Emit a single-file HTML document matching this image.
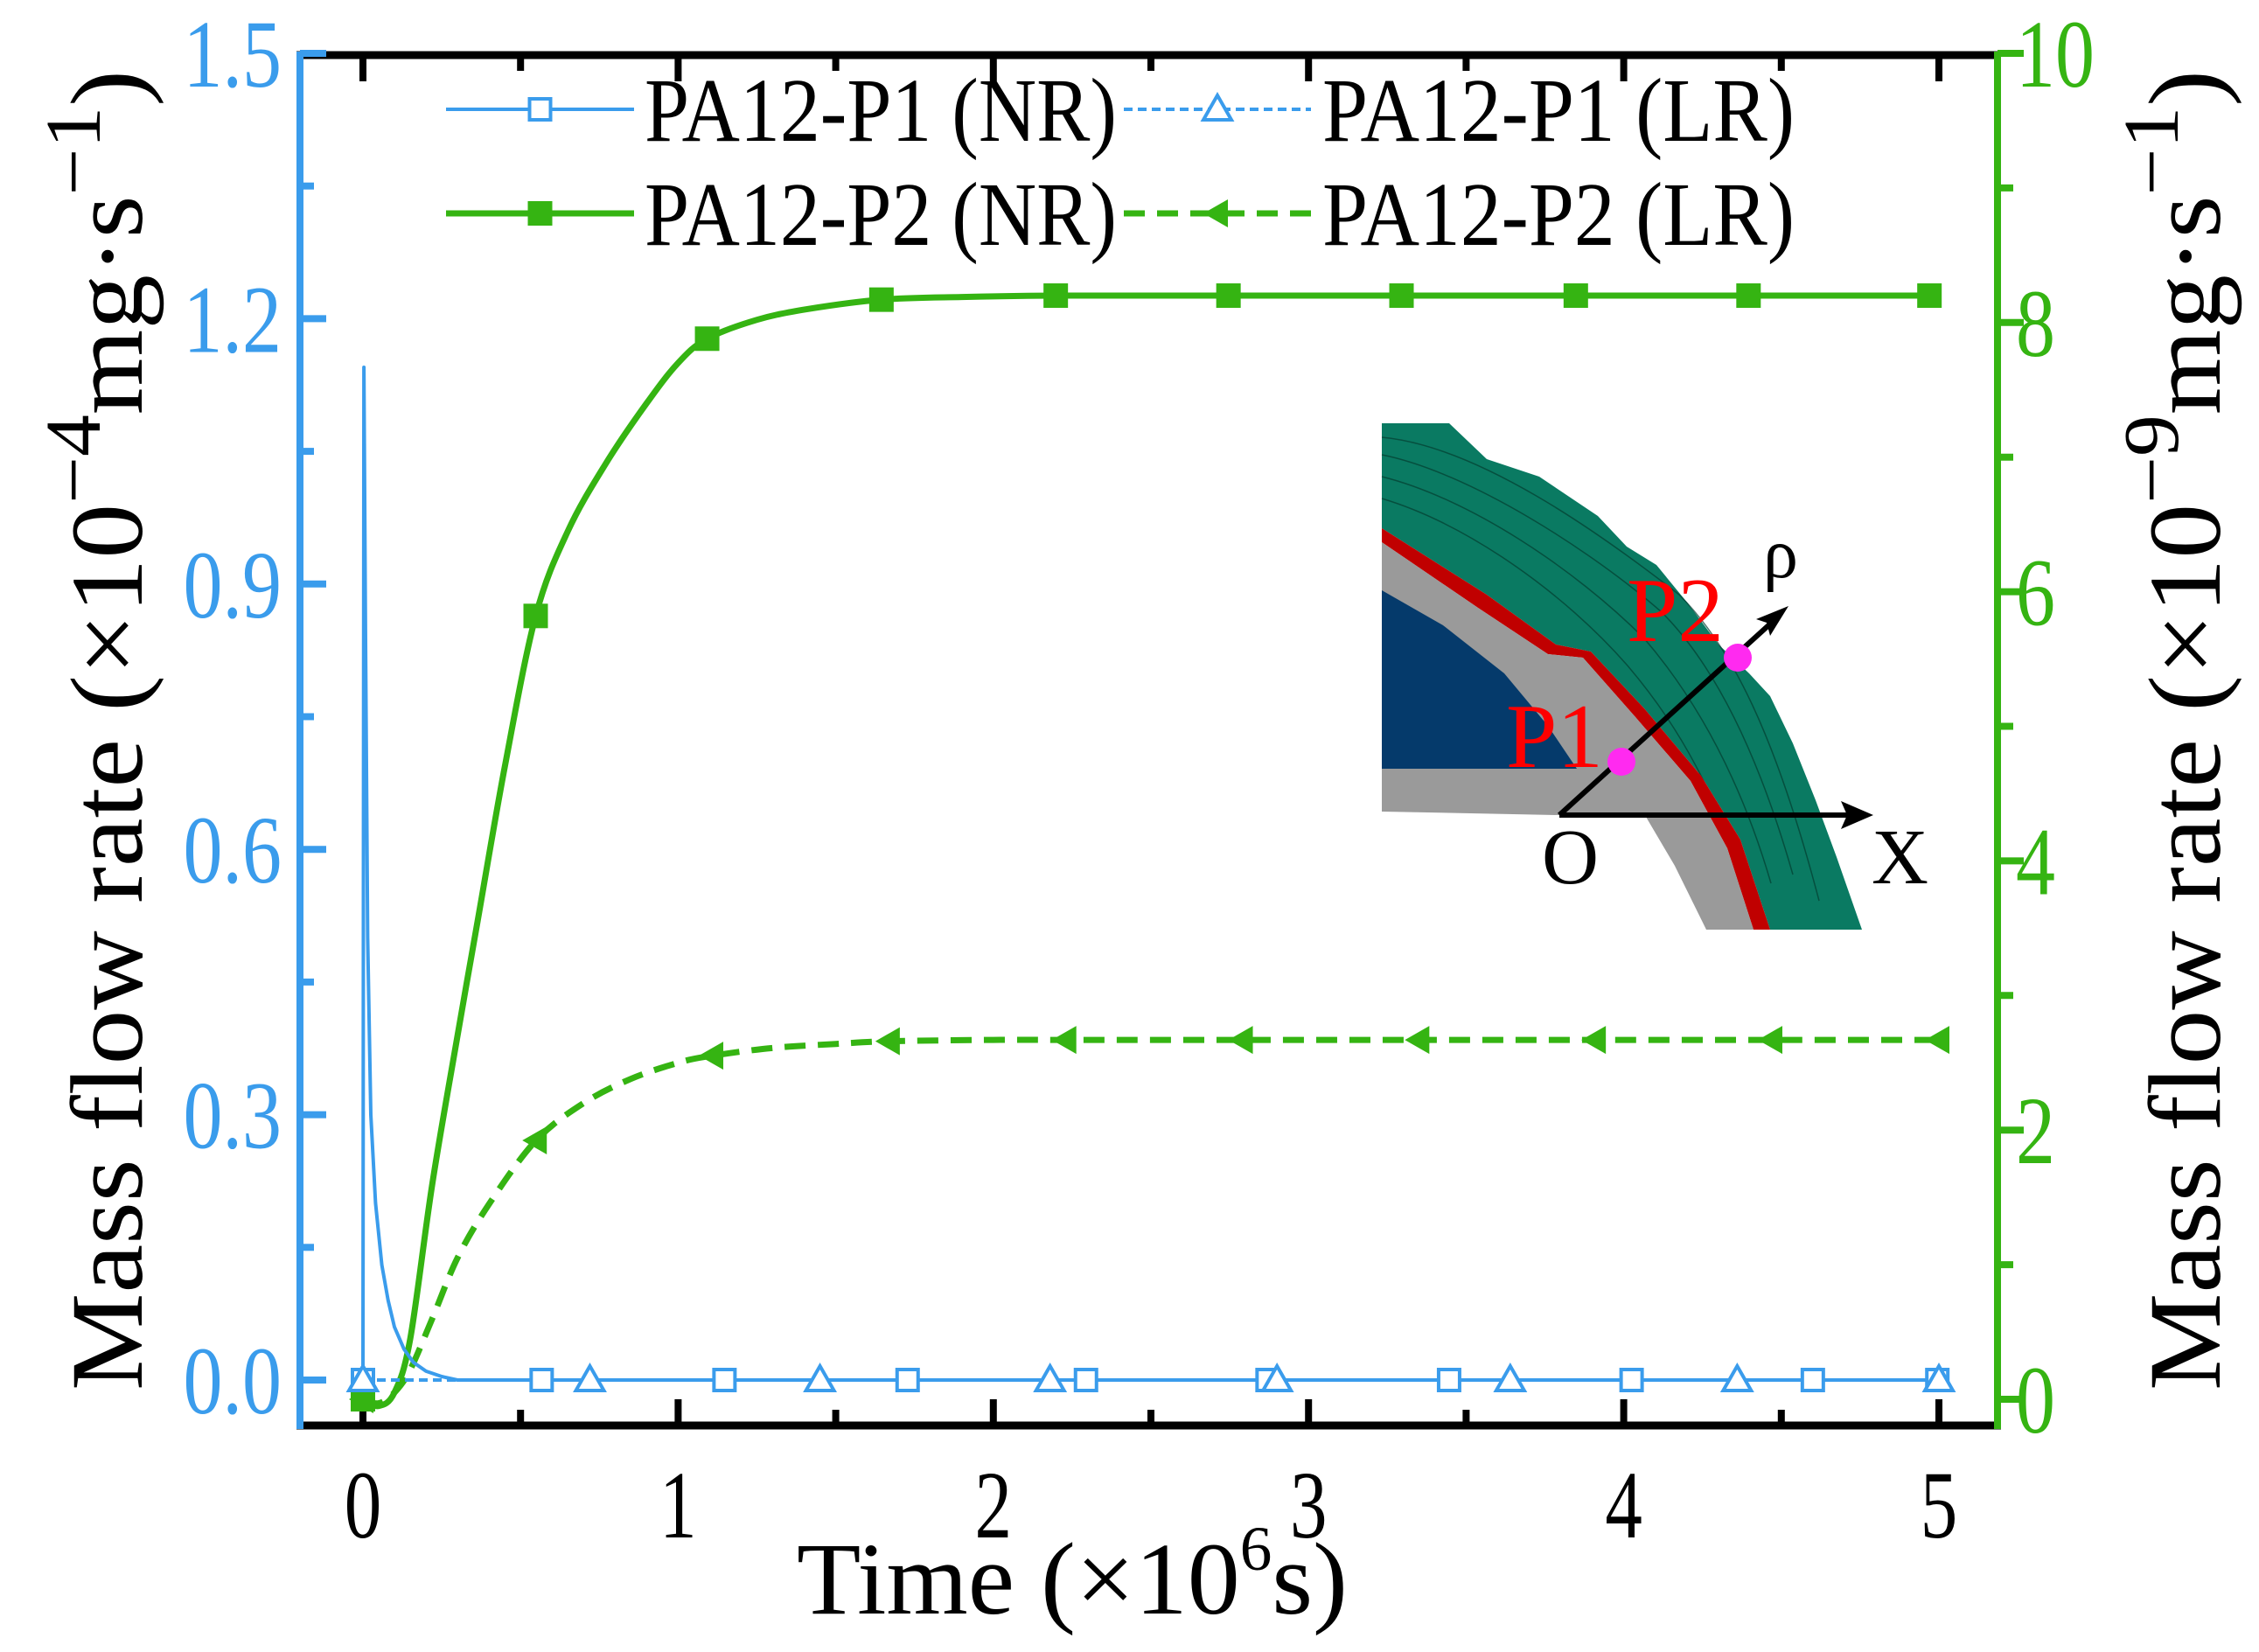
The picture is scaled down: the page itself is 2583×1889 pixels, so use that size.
<!DOCTYPE html>
<html><head><meta charset="utf-8"><style>
html,body{margin:0;padding:0;background:#fff;}
svg{display:block;font-family:"Liberation Serif",serif;}
</style></head><body>
<svg id="chart" width="2583" height="1889" viewBox="0 0 2583 1889" xmlns="http://www.w3.org/2000/svg">
<g id="inset">
  <path fill="#0a7a62" d="M1580,484 L1657,484 L1700,525 L1760,545 L1827,590 L1860,625 L1894,646 L1930,690 L1965,737 L2000,770 L2024,796 L2050,850 L2076,915 L2100,980 L2129,1063 L2024,1063 L1990,960 L1945,887 L1880,810 L1819,745 L1779,737 L1700,680 L1580,604 Z"/>
  <g stroke="#043d30" stroke-width="1.5" fill="none" opacity="0.7">
    <path d="M1580,520 C1680,540 1820,630 1900,700 C1960,760 2010,860 2050,1000"/>
    <path d="M1580,545 C1680,570 1800,650 1880,730 C1940,800 1990,890 2025,1010"/>
    <path d="M1580,570 C1680,600 1790,680 1860,760 C1920,830 1965,910 2000,1030"/>
    <path d="M1580,500 C1690,510 1830,610 1920,680 C1980,740 2030,840 2080,1030"/>
  </g>
  <path fill="#c00000" d="M1580,604 L1700,680 L1779,737 L1819,745 L1880,810 L1945,887 L1990,960 L2024,1063 L2005,1063 L1975,970 L1933,893 L1870,820 L1810,752 L1770,748 L1690,695 L1580,620 Z"/>
  <path fill="#9a9a9a" d="M1580,620 L1690,695 L1770,748 L1810,752 L1870,820 L1933,893 L1975,970 L2005,1063 L1951,1063 L1915,990 L1882,934 L1580,928 Z"/>
  <path fill="#053a6b" d="M1580,675 L1650,715 L1720,770 L1770,830 L1803,879 L1580,879 Z"/>
  <line x1="1783" y1="932" x2="2125" y2="932" stroke="#000" stroke-width="6"/>
  <path d="M2142,932 L2105,916 L2112,932 L2105,948 Z" fill="#000"/>
  <line x1="1783" y1="932" x2="2030" y2="708" stroke="#000" stroke-width="6"/>
  <path d="M2045,693 L2008,708 L2020,712 L2024,727 Z" fill="#000"/>
  <circle cx="1854" cy="871" r="16" fill="#ff2af0"/>
  <circle cx="1987" cy="752" r="16" fill="#ff2af0"/>
  <text x="1722" y="877" font-size="105" fill="#ff0000">P1</text>
  <text x="1860" y="733" font-size="105" fill="#ff0000">P2</text>
  <text x="1763" y="1010" font-size="90" fill="#000">O</text>
  <text x="2140" y="1010" font-size="90" fill="#000">X</text>
  <text x="2016" y="660" font-size="80" fill="#000">ρ</text>
</g>
<g id="plot"></g>
</svg>
<script>
const timeNR2 = [0,0.05,0.1,0.15,0.22,0.3,0.36,0.45,0.548,0.65,0.77,0.9,1.0,1.092,1.25,1.41,1.645,1.9,2.198,2.746,3.295,3.848,4.396,4.97];
const valNR2  = [0,-0.05,0.05,0.45,1.6,2.7,3.5,4.7,5.82,6.45,6.95,7.4,7.7,7.88,8.02,8.1,8.17,8.19,8.2,8.2,8.2,8.2,8.2,8.2];
const markNR2 = [0,0.548,1.092,1.645,2.198,2.746,3.295,3.848,4.396,4.97];
const timeLR2 = [0,0.05,0.1,0.15,0.22,0.3,0.4,0.548,0.7,0.85,1.0,1.1,1.3,1.5,1.67,2.0,2.23,2.79,3.35,3.91,4.47,5.0];
const valLR2  = [0,-0.03,0.05,0.22,0.6,1.05,1.45,1.92,2.2,2.38,2.5,2.55,2.61,2.64,2.66,2.67,2.67,2.67,2.67,2.67,2.67,2.67];
const markLR2 = [0,0.55,1.11,1.67,2.23,2.79,3.35,3.91,4.47,5.0];
const timeNR1 = [0,0.003,0.008,0.015,0.025,0.04,0.06,0.08,0.1,0.13,0.16,0.2,0.25,0.3,1,2,3,4,5];
const valNR1  = [0,1.145,0.85,0.5,0.3,0.2,0.13,0.09,0.06,0.035,0.02,0.01,0.004,0,0,0,0,0,0];
const markNR1 = [0,0.567,1.147,1.728,2.294,2.87,3.446,4.025,4.6,4.995];
const timeLR1 = [0,5];
const valLR1  = [0,0];
const markLR1 = [0,0.72,1.45,2.18,2.9,3.64,4.36,5.0];
const xTicks = [0,1,2,3,4,5];
const yLeftTicks = ["0.0","0.3","0.6","0.9","1.2","1.5"];
const yRightTicks = ["0","2","4","6","8","10"];

const NS="http://www.w3.org/2000/svg";
const L=343, R=2284, T=63, B=1630;
const X = t => 415 + t*360.4;
const YL = v => 1578 - v*(1578-61)/1.5;
const YR = v => 1600 - v*(1600-61)/10;
const BLUE="#3a9cec", GREEN="#35b412";
const g=document.getElementById('plot');
function el(tag, attrs, parent){const e=document.createElementNS(NS,tag);for(const k in attrs)e.setAttribute(k,attrs[k]);(parent||g).appendChild(e);return e;}

let s;
s=el('line',{x1:L-4,y1:T,x2:R+4,y2:T,stroke:'#000','stroke-width':9});


s=el('line',{x1:L-4,y1:B,x2:R+4,y2:B,stroke:'#000','stroke-width':9});


s=el('line',{x1:L,y1:T-4,x2:L,y2:B+4,stroke:BLUE,'stroke-width':8});


s=el('line',{x1:R,y1:T-4,x2:R,y2:B+4,stroke:GREEN,'stroke-width':8});



for(let i=0;i<=10;i++){const t=i*0.5;const big=i%2===0;
 let a=el('line',{x1:X(t),y1:B,x2:X(t),y2:B-(big?30:18),stroke:'#000','stroke-width':8});
 
 
 let b=el('line',{x1:X(t),y1:T,x2:X(t),y2:T+(big?30:18),stroke:'#000','stroke-width':8});
 
 }
xTicks.forEach(t=>{const e=el('text',{x:X(t),y:1758,'font-size':100,'text-anchor':'middle',fill:'#000',transform:`translate(${X(t)},1758) scale(0.85,1.1) translate(${-X(t)},-1758)`});e.textContent=t;
 
 });
for(let i=0;i<=10;i++){const v=i*0.15;const big=i%2===0;
 const a=el('line',{x1:L,y1:YL(v),x2:L+(big?30:16),y2:YL(v),stroke:BLUE,'stroke-width':8});
 
 }
yLeftTicks.forEach((lab,i)=>{const y=YL(i*0.3)+38;const e=el('text',{x:322,y:y,'font-size':100,'text-anchor':'end',fill:BLUE,transform:`translate(322,${y}) scale(0.9,1.1) translate(-322,${-y})`});e.textContent=lab;
 
 });
for(let i=0;i<=10;i++){const v=i;const big=i%2===0;
 const a=el('line',{x1:R,y1:YR(v),x2:R+(big?30:18),y2:YR(v),stroke:GREEN,'stroke-width':8});
 
 }
yRightTicks.forEach((lab,i)=>{const y=YR(i*2)+38;const e=el('text',{x:2305,y:y,'font-size':100,'text-anchor':'start',fill:GREEN,transform:`translate(2305,${y}) scale(0.9,1.1) translate(-2305,${-y})`});e.textContent=lab;
 
 });

function interp(ts,vs,t){for(let i=1;i<ts.length;i++){if(t<=ts[i]){const f=(t-ts[i-1])/(ts[i]-ts[i-1]);return vs[i-1]+f*(vs[i]-vs[i-1]);}}return vs[vs.length-1];}
function smoothPath(pts){
 let d='M'+pts[0][0].toFixed(1)+','+pts[0][1].toFixed(1);
 for(let i=0;i<pts.length-1;i++){
  const p0=pts[Math.max(0,i-1)],p1=pts[i],p2=pts[i+1],p3=pts[Math.min(pts.length-1,i+2)];
  const c1=[p1[0]+(p2[0]-p0[0])/6,p1[1]+(p2[1]-p0[1])/6];
  const c2=[p2[0]-(p3[0]-p1[0])/6,p2[1]-(p3[1]-p1[1])/6];
  d+=` C${c1[0].toFixed(1)},${c1[1].toFixed(1)} ${c2[0].toFixed(1)},${c2[1].toFixed(1)} ${p2[0].toFixed(1)},${p2[1].toFixed(1)}`;
 }
 return d;
}
function curve(ts,vs,Y,color,dash,name,w,smooth){
 const pts=ts.map((t,i)=>[X(t),Y(vs[i])]);
 const d=smooth?smoothPath(pts):pts.map((p,i)=>(i?'L':'M')+p[0].toFixed(1)+','+p[1].toFixed(1)).join(' ');
 const p=el('path',{d:d,fill:'none',stroke:color,'stroke-width':w,'stroke-dasharray':dash||'none','stroke-linejoin':'round'});
 
 
}
function marker(type,cx,cy,color,name){let m;
 if(type==='sq-open') m=el('rect',{x:cx-12,y:cy-12,width:24,height:24,fill:'#fff',stroke:color,'stroke-width':4});
 else if(type==='sq') m=el('rect',{x:cx-14,y:cy-14,width:28,height:28,fill:color});
 else if(type==='tri-open') m=el('path',{d:`M${cx},${cy-16} L${cx+16},${cy+12} L${cx-16},${cy+12} Z`,fill:'#fff',stroke:color,'stroke-width':4});
 else m=el('path',{d:`M${cx-16},${cy} L${cx+12},${cy-16} L${cx+12},${cy+16} Z`,fill:color});
 
 
}
curve(timeLR2,valLR2,YR,GREEN,'24 14','series-pa12-p2-lr',7,true);
curve(timeNR2,valNR2,YR,GREEN,null,'series-pa12-p2-nr',7,true);
curve(timeLR1,valLR1,YL,BLUE,'10 6','series-pa12-p1-lr',4,false);
curve(timeNR1,valNR1,YL,BLUE,null,'series-pa12-p1-nr',4,false);
markLR2.forEach(t=>marker('tri',X(t),YR(interp(timeLR2,valLR2,t)),GREEN,'marker-p2-lr'));
markNR2.forEach(t=>marker('sq',X(t),YR(interp(timeNR2,valNR2,t)),GREEN,'marker-p2-nr'));
markNR1.forEach(t=>marker('sq-open',X(t),YL(interp(timeNR1,valNR1,t)),BLUE,'marker-p1-nr'));
markLR1.forEach(t=>marker('tri-open',X(t),YL(interp(timeLR1,valLR1,t)),BLUE,'marker-p1-lr'));

function legend(x1,x2,y,color,dash,mtype,label,tx,name,w){
 const lg=el('g',{});
 
 
 el('line',{x1:x1,y1:y,x2:x2,y2:y,stroke:color,'stroke-width':w,'stroke-dasharray':dash||'none'},lg);
 const cx=(x1+x2)/2;
 if(mtype==='sq-open') el('rect',{x:cx-12,y:y-12,width:24,height:24,fill:'#fff',stroke:color,'stroke-width':4},lg);
 else if(mtype==='sq') el('rect',{x:cx-14,y:y-14,width:28,height:28,fill:color},lg);
 else if(mtype==='tri-open') el('path',{d:`M${cx},${y-16} L${cx+16},${y+12} L${cx-16},${y+12} Z`,fill:'#fff',stroke:color,'stroke-width':4},lg);
 else el('path',{d:`M${cx-16},${y} L${cx+12},${y-16} L${cx+12},${y+16} Z`,fill:color},lg);
 const t=el('text',{x:tx,y:y+36,'font-size':104,textLength:540,lengthAdjust:'spacingAndGlyphs',fill:'#000'},lg);t.textContent=label;
}
legend(510,725,125,BLUE,null,'sq-open','PA12-P1 (NR)',737,'legend-pa12-p1-nr',4);
legend(1285,1499,125,BLUE,'10 6','tri-open','PA12-P1 (LR)',1512,'legend-pa12-p1-lr',4);
legend(510,725,244,GREEN,null,'sq','PA12-P2 (NR)',737,'legend-pa12-p2-nr',7);
legend(1285,1499,244,GREEN,'24 14','tri','PA12-P2 (LR)',1512,'legend-pa12-p2-lr',7);

let t1=el('text',{x:0,y:0,'font-size':118,fill:'#000',textLength:1510,lengthAdjust:'spacingAndGlyphs',transform:'translate(162,1590) rotate(-90)'});


t1.innerHTML='Mass flow rate (×10<tspan font-size="90" dy="-48">−4</tspan><tspan dy="48">mg·s</tspan><tspan font-size="90" dy="-48">−1</tspan><tspan dy="48">)</tspan>';
let t2=el('text',{x:0,y:0,'font-size':118,fill:'#000',textLength:1510,lengthAdjust:'spacingAndGlyphs',transform:'translate(2538,1590) rotate(-90)'});


t2.innerHTML='Mass flow rate (×10<tspan font-size="90" dy="-48">−9</tspan><tspan dy="48">mg·s</tspan><tspan font-size="90" dy="-48">−1</tspan><tspan dy="48">)</tspan>';
let t3=el('text',{x:911,y:1845,'font-size':118,fill:'#000',textLength:630,lengthAdjust:'spacingAndGlyphs'});


t3.innerHTML='Time (×10<tspan font-size="72" dy="-50">6</tspan><tspan dy="50">s)</tspan>';
</script>
</body></html>
